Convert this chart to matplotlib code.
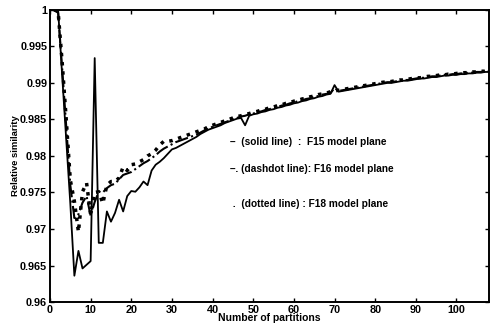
"""Relative similarity vs number of partitions for three model planes."""
import matplotlib
matplotlib.use("Agg")
import matplotlib.pyplot as plt
import numpy as np

# ---------------------------------------------------------------------------
# data
# ---------------------------------------------------------------------------
partitions = list(range(1, 109))

f15_head = [1.0000, 1.0000, 0.9910, 0.9822, 0.9735, 0.9636, 0.9670, 0.9646,
            0.9651, 0.9656, 0.9934, 0.9681, 0.9681, 0.9724, 0.9710, 0.9722,
            0.9740, 0.9724, 0.9745, 0.9752, 0.9751, 0.9757, 0.9765, 0.9760,
            0.9780, 0.9788, 0.9792, 0.9797, 0.9803, 0.9809, 0.9811, 0.9814,
            0.9817, 0.9820, 0.9823, 0.9826]
f16_head = [1.0000, 0.9996, 0.9920, 0.9840, 0.9760, 0.9715, 0.9720, 0.9736,
            0.9745, 0.9718, 0.9737, 0.9751, 0.9750, 0.9756, 0.9760, 0.9762,
            0.9768, 0.9774, 0.9776, 0.9778, 0.9782, 0.9786, 0.9790, 0.9793,
            0.9797, 0.9801, 0.9806, 0.9810, 0.9813, 0.9816, 0.9819, 0.9821,
            0.9823, 0.9825, 0.9827, 0.9829]
f18_head = [1.0000, 0.9998, 0.9928, 0.9850, 0.9767, 0.9738, 0.9696, 0.9751,
            0.9763, 0.9720, 0.9750, 0.9751, 0.9735, 0.9760, 0.9765, 0.9765,
            0.9770, 0.9785, 0.9780, 0.9788, 0.9789, 0.9792, 0.9795, 0.9800,
            0.9803, 0.9808, 0.9815, 0.9820, 0.9820, 0.9821, 0.9823, 0.9825,
            0.9827, 0.9829, 0.9831, 0.9833]

# x = 37 .. 108, where the three curves run together
f15_tail = [0.9830, 0.9833, 0.9836, 0.9838, 0.9840, 0.9842, 0.9845, 0.9847,
            0.9849, 0.9851, 0.9852, 0.9842, 0.9855, 0.9857, 0.9858, 0.9860,
            0.9861, 0.9863, 0.9864, 0.9866, 0.9867, 0.9869, 0.9870, 0.9872,
            0.9873, 0.9875, 0.9876, 0.9878, 0.9879, 0.9881, 0.9882, 0.9884,
            0.9885, 0.9897, 0.9888, 0.9889, 0.9890, 0.9891, 0.9892, 0.9893,
            0.9894, 0.9895, 0.9896, 0.9897, 0.9898, 0.9899, 0.9900, 0.9900,
            0.9901, 0.9902, 0.9903, 0.9903, 0.9904, 0.9905, 0.9906, 0.9906,
            0.9907, 0.9908, 0.9908, 0.9909, 0.9910, 0.9910, 0.9911, 0.9911,
            0.9912, 0.9912, 0.9913, 0.9913, 0.9914, 0.9914, 0.9915, 0.9915]
f16_tail = [0.9832, 0.9835, 0.9837, 0.9840, 0.9842, 0.9844, 0.9846, 0.9848,
            0.9850, 0.9852, 0.9854, 0.9855, 0.9857, 0.9858, 0.9860, 0.9861,
            0.9863, 0.9864, 0.9866, 0.9867, 0.9869, 0.9870, 0.9872, 0.9873,
            0.9875, 0.9876, 0.9878, 0.9879, 0.9881, 0.9882, 0.9884, 0.9885,
            0.9886, 0.9893, 0.9889, 0.9890, 0.9891, 0.9892, 0.9893, 0.9894,
            0.9895, 0.9896, 0.9897, 0.9898, 0.9899, 0.9900, 0.9901, 0.9901,
            0.9902, 0.9903, 0.9904, 0.9904, 0.9905, 0.9906, 0.9907, 0.9907,
            0.9908, 0.9909, 0.9909, 0.9910, 0.9911, 0.9911, 0.9912, 0.9912,
            0.9913, 0.9913, 0.9914, 0.9914, 0.9915, 0.9915, 0.9916, 0.9916]
f18_tail = [0.9835, 0.9837, 0.9840, 0.9842, 0.9844, 0.9846, 0.9848, 0.9850,
            0.9852, 0.9854, 0.9855, 0.9857, 0.9858, 0.9860, 0.9861, 0.9863,
            0.9864, 0.9866, 0.9867, 0.9869, 0.9870, 0.9872, 0.9873, 0.9875,
            0.9876, 0.9878, 0.9879, 0.9881, 0.9882, 0.9884, 0.9885, 0.9886,
            0.9888, 0.9889, 0.9890, 0.9891, 0.9892, 0.9893, 0.9894, 0.9895,
            0.9896, 0.9897, 0.9898, 0.9899, 0.9900, 0.9901, 0.9901, 0.9902,
            0.9903, 0.9904, 0.9904, 0.9905, 0.9906, 0.9907, 0.9907, 0.9908,
            0.9909, 0.9909, 0.9910, 0.9911, 0.9911, 0.9912, 0.9912, 0.9913,
            0.9913, 0.9914, 0.9914, 0.9915, 0.9915, 0.9916, 0.9916, 0.9917]

f15 = f15_head + f15_tail
f16 = f16_head + f16_tail
f18 = f18_head + f18_tail

x_ticks = list(range(0, 101, 10))
y_ticks = [0.96, 0.965, 0.97, 0.975, 0.98, 0.985, 0.99, 0.995, 1.0]
y_tick_labels = ["0.96", "0.965", "0.97", "0.975", "0.98", "0.985", "0.99",
                 "0.995", "1"]
notes = ["\u2013  (solid line)  :  F15 model plane",
         "\u2013. (dashdot line): F16 model plane",
         " .  (dotted line) : F18 model plane"]

# ---------------------------------------------------------------------------
# plot
# ---------------------------------------------------------------------------
plt.rcParams["font.family"] = ["Liberation Sans", "DejaVu Sans"]
plt.rcParams["font.weight"] = "bold"

fig = plt.figure(figsize=(4.9, 3.29), dpi=100)
ax = fig.add_axes([0.102, 0.082, 0.896, 0.888])

ax.plot(partitions, f18, color="black", linestyle=":", linewidth=2.5)
ax.plot(partitions, f16, color="black", linestyle="-.", linewidth=1.5)
ax.plot(partitions, f15, color="black", linestyle="-", linewidth=1.3)

ax.set_xlim(0, 108)
ax.set_ylim(0.96, 1.0)
ax.set_xticks(x_ticks)
ax.set_yticks(y_ticks)
ax.set_yticklabels(y_tick_labels)
ax.tick_params(direction="in", top=True, right=True, length=3, width=1,
               labelsize=7.8, pad=2)
for s in ax.spines.values():
    s.set_linewidth(1.4)

ax.set_xlabel("Number of partitions", fontsize=7.5, fontweight="bold",
              labelpad=-1)
ax.set_ylabel("Relative similarity", fontsize=6.8, fontweight="bold",
              labelpad=0)

for txt, yv in zip(notes, [0.98195, 0.97825, 0.97345]):
    ax.text(44.3, yv, txt, fontsize=7.3, fontweight="bold", va="center",
            ha="left")

fig.savefig("out.png", dpi=100)
